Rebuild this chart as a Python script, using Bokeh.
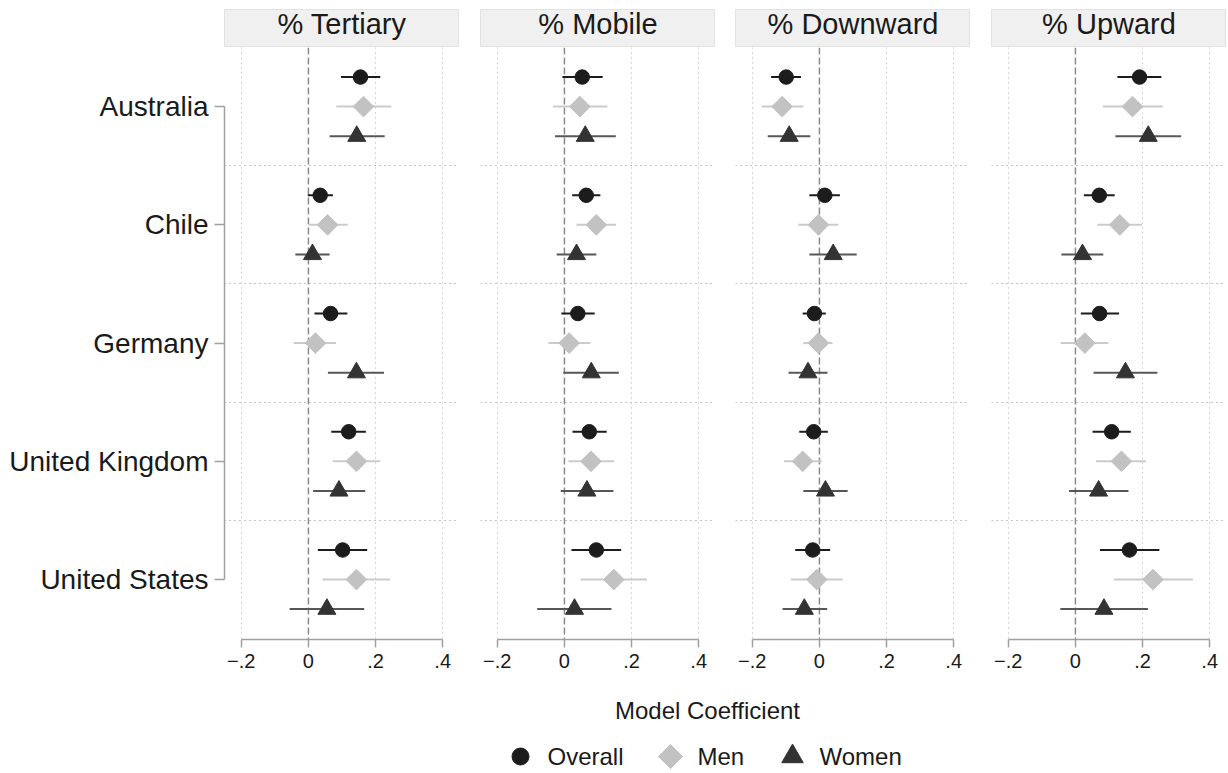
import math
from bokeh.plotting import figure
from bokeh.layouts import column, row
from bokeh.models import (Range1d, FixedTicker, Span, Label, ColumnDataSource, Grid)
from bokeh.core.properties import value
from bokeh.embed import file_html
from bokeh.resources import INLINE

# ---------------- data ----------------
COUNTRIES = ["Australia", "Chile", "Germany", "United Kingdom", "United States"]
PANELS = ["% Tertiary", "% Mobile", "% Downward", "% Upward"]
GROUPS = ["Overall", "Men", "Women"]
X_TICKS = [-0.2, 0, 0.2, 0.4]
X_TICK_LABELS = ["\u2212.2", "0", ".2", ".4"]
AXIS_TITLE = "Model Coefficient"

# % Tertiary
TERTIARY_OVERALL = [0.155, 0.035, 0.066, 0.120, 0.102]
TERTIARY_OVERALL_LO = [0.097, -0.002, 0.018, 0.068, 0.028]
TERTIARY_OVERALL_HI = [0.214, 0.073, 0.116, 0.171, 0.175]
TERTIARY_MEN = [0.164, 0.057, 0.021, 0.143, 0.143]
TERTIARY_MEN_LO = [0.083, 0.001, -0.044, 0.073, 0.042]
TERTIARY_MEN_HI = [0.247, 0.117, 0.082, 0.214, 0.243]
TERTIARY_WOMEN = [0.144, 0.012, 0.143, 0.091, 0.055]
TERTIARY_WOMEN_LO = [0.063, -0.039, 0.058, 0.014, -0.056]
TERTIARY_WOMEN_HI = [0.227, 0.063, 0.225, 0.169, 0.166]

# % Mobile
MOBILE_OVERALL = [0.053, 0.065, 0.040, 0.074, 0.095]
MOBILE_OVERALL_LO = [-0.006, 0.023, -0.009, 0.024, 0.021]
MOBILE_OVERALL_HI = [0.114, 0.107, 0.090, 0.126, 0.169]
MOBILE_MEN = [0.046, 0.095, 0.014, 0.079, 0.147]
MOBILE_MEN_LO = [-0.034, 0.036, -0.048, 0.012, 0.048]
MOBILE_MEN_HI = [0.128, 0.154, 0.077, 0.148, 0.246]
MOBILE_WOMEN = [0.062, 0.036, 0.080, 0.067, 0.030]
MOBILE_WOMEN_LO = [-0.028, -0.023, -0.003, -0.011, -0.081]
MOBILE_WOMEN_HI = [0.153, 0.095, 0.162, 0.146, 0.140]

# % Downward
DOWNWARD_OVERALL = [-0.099, 0.016, -0.015, -0.017, -0.020]
DOWNWARD_OVERALL_LO = [-0.144, -0.030, -0.050, -0.060, -0.072]
DOWNWARD_OVERALL_HI = [-0.055, 0.061, 0.019, 0.025, 0.032]
DOWNWARD_MEN = [-0.111, -0.003, -0.003, -0.050, -0.008]
DOWNWARD_MEN_LO = [-0.172, -0.063, -0.048, -0.106, -0.085]
DOWNWARD_MEN_HI = [-0.048, 0.056, 0.039, 0.007, 0.069]
DOWNWARD_WOMEN = [-0.090, 0.041, -0.034, 0.018, -0.045]
DOWNWARD_WOMEN_LO = [-0.154, -0.030, -0.092, -0.048, -0.110]
DOWNWARD_WOMEN_HI = [-0.027, 0.111, 0.024, 0.084, 0.023]

# % Upward
UPWARD_OVERALL = [0.191, 0.071, 0.072, 0.108, 0.161]
UPWARD_OVERALL_LO = [0.125, 0.025, 0.016, 0.051, 0.073]
UPWARD_OVERALL_HI = [0.256, 0.117, 0.130, 0.165, 0.250]
UPWARD_MEN = [0.170, 0.132, 0.028, 0.137, 0.231]
UPWARD_MEN_LO = [0.082, 0.065, -0.044, 0.061, 0.114]
UPWARD_MEN_HI = [0.260, 0.198, 0.098, 0.210, 0.350]
UPWARD_WOMEN = [0.217, 0.021, 0.149, 0.069, 0.085]
UPWARD_WOMEN_LO = [0.119, -0.042, 0.054, -0.019, -0.045]
UPWARD_WOMEN_HI = [0.315, 0.083, 0.244, 0.158, 0.216]

PANEL_DATA = [
    [(TERTIARY_OVERALL, TERTIARY_OVERALL_LO, TERTIARY_OVERALL_HI),
     (TERTIARY_MEN, TERTIARY_MEN_LO, TERTIARY_MEN_HI),
     (TERTIARY_WOMEN, TERTIARY_WOMEN_LO, TERTIARY_WOMEN_HI)],
    [(MOBILE_OVERALL, MOBILE_OVERALL_LO, MOBILE_OVERALL_HI),
     (MOBILE_MEN, MOBILE_MEN_LO, MOBILE_MEN_HI),
     (MOBILE_WOMEN, MOBILE_WOMEN_LO, MOBILE_WOMEN_HI)],
    [(DOWNWARD_OVERALL, DOWNWARD_OVERALL_LO, DOWNWARD_OVERALL_HI),
     (DOWNWARD_MEN, DOWNWARD_MEN_LO, DOWNWARD_MEN_HI),
     (DOWNWARD_WOMEN, DOWNWARD_WOMEN_LO, DOWNWARD_WOMEN_HI)],
    [(UPWARD_OVERALL, UPWARD_OVERALL_LO, UPWARD_OVERALL_HI),
     (UPWARD_MEN, UPWARD_MEN_LO, UPWARD_MEN_HI),
     (UPWARD_WOMEN, UPWARD_WOMEN_LO, UPWARD_WOMEN_HI)],
]

# ---------------- styles ----------------
FONT = "Liberation Sans"
TXT = "#1a1a1a"
AXIS_COL = "#a0a0a0"
OFFSETS = [-0.25, 0.0, 0.25]
MARKERS = ["circle", "square", "triangle"]
ANGLES = [0.0, math.pi / 4, 0.0]      # rotated square = diamond
SIZES = [14.5, 14.6, 18]
LEG_SIZES = [17, 17, 21.5]
MARK_COL = ["#1c1c1c", "#c2c2c2", "#333333"]
BAR_COL = ["#1c1c1c", "#cbcbcb", "#575757"]

FRAME_W = 235
FRAME_H = 592
LEFTS = [224, 21, 20, 21]      # left border of each panel figure
HEADER_TOP = 9
BOTTOM_B = 40
BOTTOM_H = 93
TOTAL_W = sum(LEFTS) + 4 * FRAME_W

# legend layout (pixels in the bottom strip)
LEG_KEY_X = [520, 670, 792]
LEG_TEXT_GAP = 27
LEG_Y = 77
TITLE_X = 707
TITLE_Y = 31

headers = []
panels = []
for i, (name, groups) in enumerate(zip(PANELS, PANEL_DATA)):
    first = i == 0
    left = LEFTS[i]

    # header strip
    h = figure(width=left + FRAME_W, height=HEADER_TOP + 38, x_range=Range1d(0, 1),
               y_range=Range1d(0, 1),
               min_border_left=left, min_border_right=0, min_border_top=HEADER_TOP,
               min_border_bottom=1,
               toolbar_location=None, output_backend="svg",
               x_axis_location=None, y_axis_location=None,
               background_fill_color="#f0f0f0", border_fill_color="white",
               outline_line_color="#e2e2e2")
    h.grid.visible = False
    h.add_layout(Label(x=0.5, y=0.6, text=name, text_align="center", text_baseline="middle",
                       text_font=FONT, text_font_size="29px", text_color=TXT))
    headers.append(h)

    # panel
    p = figure(width=left + FRAME_W, height=FRAME_H + BOTTOM_B,
               x_range=Range1d(-0.25, 0.45), y_range=Range1d(4.507, -0.5),
               min_border_left=left, min_border_right=0, min_border_top=0,
               min_border_bottom=BOTTOM_B,
               toolbar_location=None, output_backend="svg",
               y_axis_location="left" if first else None,
               outline_line_color=None, background_fill_color="white",
               border_fill_color="white")
    p.grid.visible = False

    p.add_layout(Grid(dimension=0, ticker=FixedTicker(ticks=[t for t in X_TICKS if t != 0]),
                      grid_line_color="#b0b0b0", grid_line_dash="1 4", grid_line_width=1))
    p.add_layout(Grid(dimension=1,
                      ticker=FixedTicker(ticks=[k + 0.5 for k in range(len(COUNTRIES) - 1)]),
                      grid_line_color="#8a8a8a", grid_line_dash="1 4", grid_line_width=1))
    zero = Span(location=0, dimension="height", line_color="#8a8a8a", line_dash="7 3",
                line_width=1.5, level="underlay")
    p.add_layout(zero)

    xa = p.xaxis[0]
    xa.ticker = FixedTicker(ticks=X_TICKS)
    xa.major_label_overrides = {t: l for t, l in zip(X_TICKS, X_TICK_LABELS)}
    xa.bounds = (min(X_TICKS), max(X_TICKS))
    xa.minor_tick_line_color = None
    xa.major_tick_out = 8
    xa.major_tick_in = 0
    xa.axis_line_color = AXIS_COL
    xa.axis_line_width = 1.5
    xa.major_tick_line_color = AXIS_COL
    xa.major_tick_line_width = 1.5
    xa.major_label_text_font = FONT
    xa.major_label_text_font_size = "20px"
    xa.major_label_text_color = TXT
    xa.major_label_standoff = 6

    if first:
        ya = p.yaxis[0]
        ya.ticker = FixedTicker(ticks=list(range(len(COUNTRIES))))
        ya.major_label_overrides = {k: c for k, c in enumerate(COUNTRIES)}
        ya.bounds = (0, len(COUNTRIES) - 1)
        ya.minor_tick_line_color = None
        ya.major_tick_out = 10
        ya.major_tick_in = 0
        ya.axis_line_color = AXIS_COL
        ya.axis_line_width = 1.5
        ya.major_tick_line_color = AXIS_COL
        ya.major_tick_line_width = 1.5
        ya.major_label_text_font = FONT
        ya.major_label_text_font_size = "28px"
        ya.major_label_text_color = TXT
        ya.major_label_standoff = 6

    for g, (est, lo, hi) in enumerate(groups):
        src = ColumnDataSource(dict(
            y=[k + OFFSETS[g] for k in range(len(COUNTRIES))],
            est=est, lo=lo, hi=hi))
        p.segment(x0="lo", y0="y", x1="hi", y1="y", source=src,
                  line_color=BAR_COL[g], line_width=2)
        p.scatter(x="est", y="y", source=src, marker=MARKERS[g], size=SIZES[g],
                  angle=ANGLES[g], fill_color=MARK_COL[g], line_color=MARK_COL[g],
                  line_width=1)
    panels.append(p)

# bottom strip: axis title + legend (pixel coordinates of the strip)
b = figure(width=TOTAL_W, height=BOTTOM_H,
           x_range=Range1d(0, TOTAL_W), y_range=Range1d(BOTTOM_H, 0), min_border=0,
           toolbar_location=None, output_backend="svg",
           x_axis_location=None, y_axis_location=None, outline_line_color=None)
b.grid.visible = False
b.text(x=[TITLE_X], y=[TITLE_Y], text=[AXIS_TITLE], text_align="center",
       text_baseline="middle", text_font=value(FONT), text_font_size="24px",
       text_color=TXT)
for g in range(len(GROUPS)):
    b.scatter(x=[LEG_KEY_X[g]], y=[LEG_Y], marker=MARKERS[g], size=LEG_SIZES[g],
              angle=ANGLES[g], fill_color=MARK_COL[g], line_color=MARK_COL[g])
b.text(x=[kx + LEG_TEXT_GAP for kx in LEG_KEY_X], y=[LEG_Y] * len(GROUPS), text=GROUPS,
       text_align="left", text_baseline="middle", text_font=value(FONT),
       text_font_size="24px", text_color=TXT)

layout = column(row(*headers, spacing=0), row(*panels, spacing=0), b, spacing=0)

open("out.html", "w").write(file_html(layout, INLINE))
